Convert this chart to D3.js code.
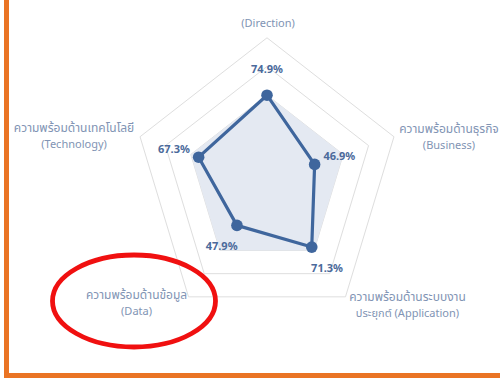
<!DOCTYPE html>
<html>
<head>
<meta charset="utf-8">
<script src="https://cdn.jsdelivr.net/npm/d3@7"></script>
<style>
  html, body { margin: 0; padding: 0; background: #fff; }
  svg { display: block; }
  text { font-family: "Noto Sans", "Noto Sans Thai", "Open Sans", sans-serif; }
</style>
</head>
<body>
<svg id="chart" width="500" height="379"></svg>
<script>
// Readiness dimensions, clockwise from the top
const axisKeys = ["Direction", "Business", "Application", "Data", "Technology"];
const axisThai = ["", "ความพร้อมด้านธุรกิจ", "ความพร้อมด้านระบบงาน", "ความพร้อมด้านข้อมูล", "ความพร้อมด้านเทคโนโลยี"];
const axisEnglish = ["(Direction)", "(Business)", "ประยุกต์ (Application)", "(Data)", "(Technology)"];
// Readiness scores (%)
const scores = [74.9, 46.9, 71.3, 47.9, 67.3];
// Target band shown as a filled area
const target = [75, 75, 75, 75, 75];
// Radial grid levels
const gridLevels = [25, 50, 75, 100, 125];

const svg = d3.select("#chart");
const W = 500, H = 379;
const cx = 267, cy = 181;
const Rx = 133.5, Ry = 143.2;

const rX = d3.scaleLinear().domain([0, 125]).range([0, Rx]);
const rY = d3.scaleLinear().domain([0, 125]).range([0, Ry]);
const angle = d3.scalePoint().domain(axisKeys).range([0, 4]);
const ang = k => (-90 + 72 * angle(k)) * Math.PI / 180;
const pt = (k, v) => [cx + rX(v) * Math.cos(ang(k)), cy + rY(v) * Math.sin(ang(k))];

const lineGen = d3.line().curve(d3.curveLinearClosed);

// frame
svg.append("rect").attr("width", W).attr("height", H).attr("fill", "#fff");

// grid pentagons
svg.append("g").selectAll("path").data(gridLevels).join("path")
  .attr("d", lv => lineGen(axisKeys.map(k => pt(k, lv))))
  .attr("fill", "none").attr("stroke", "#dedede").attr("stroke-width", 1);

// target area
svg.append("path")
  .attr("d", lineGen(axisKeys.map((k, i) => pt(k, target[i]))))
  .attr("fill", "#e4e9f2");

// score polygon
const scoreColor = "#3f669d";
svg.append("path")
  .attr("d", lineGen(axisKeys.map((k, i) => pt(k, scores[i]))))
  .attr("fill", "none").attr("stroke", scoreColor).attr("stroke-width", 3.2)
  .attr("stroke-linejoin", "round");

svg.append("g").selectAll("circle").data(axisKeys).join("circle")
  .attr("cx", (k, i) => pt(k, scores[i])[0])
  .attr("cy", (k, i) => pt(k, scores[i])[1])
  .attr("r", 5.8).attr("fill", scoreColor);

// value labels, pushed outward along each spoke
svg.append("g").selectAll("text").data(axisKeys).join("text")
  .attr("x", (k, i) => pt(k, scores[i])[0] + 26 * Math.cos(ang(k)))
  .attr("y", (k, i) => pt(k, scores[i])[1] + 26 * Math.sin(ang(k)) + 4)
  .attr("text-anchor", "middle")
  .attr("font-size", 11).attr("font-weight", "bold")
  .attr("fill", "#4b6a9b")
  .text((k, i) => scores[i].toFixed(1) + "%");

// axis titles, offset from the outer vertices
const titleOffset = [[1, -15], [55, -8], [62, 0], [-52, -2], [-66, -9]];
const titleColor = "#8194b4";
const titles = svg.append("g").selectAll("g").data(axisKeys).join("g")
  .attr("transform", (k, i) => {
    const p = pt(k, 125);
    return `translate(${p[0] + titleOffset[i][0]},${p[1] + titleOffset[i][1]})`;
  });
titles.append("text")
  .attr("text-anchor", "middle").attr("font-size", 12).attr("fill", titleColor)
  .attr("y", 4)
  .text((k, i) => axisThai[i]);
titles.append("text")
  .attr("text-anchor", "middle").attr("font-size", 11).attr("fill", titleColor)
  .attr("y", (k, i) => axisThai[i] ? 20 : 4)
  .text((k, i) => axisEnglish[i]);

// highlight ring around the Data title
svg.append("ellipse")
  .attr("cx", 134).attr("cy", 301).attr("rx", 81.5).attr("ry", 46)
  .attr("fill", "none").attr("stroke", "#f01010").attr("stroke-width", 4.8);

// orange border (left and bottom)
svg.append("path")
  .attr("d", "M6.5,0 V375.5 H500")
  .attr("fill", "none").attr("stroke", "#ea7424").attr("stroke-width", 5);
</script>
</body>
</html>
